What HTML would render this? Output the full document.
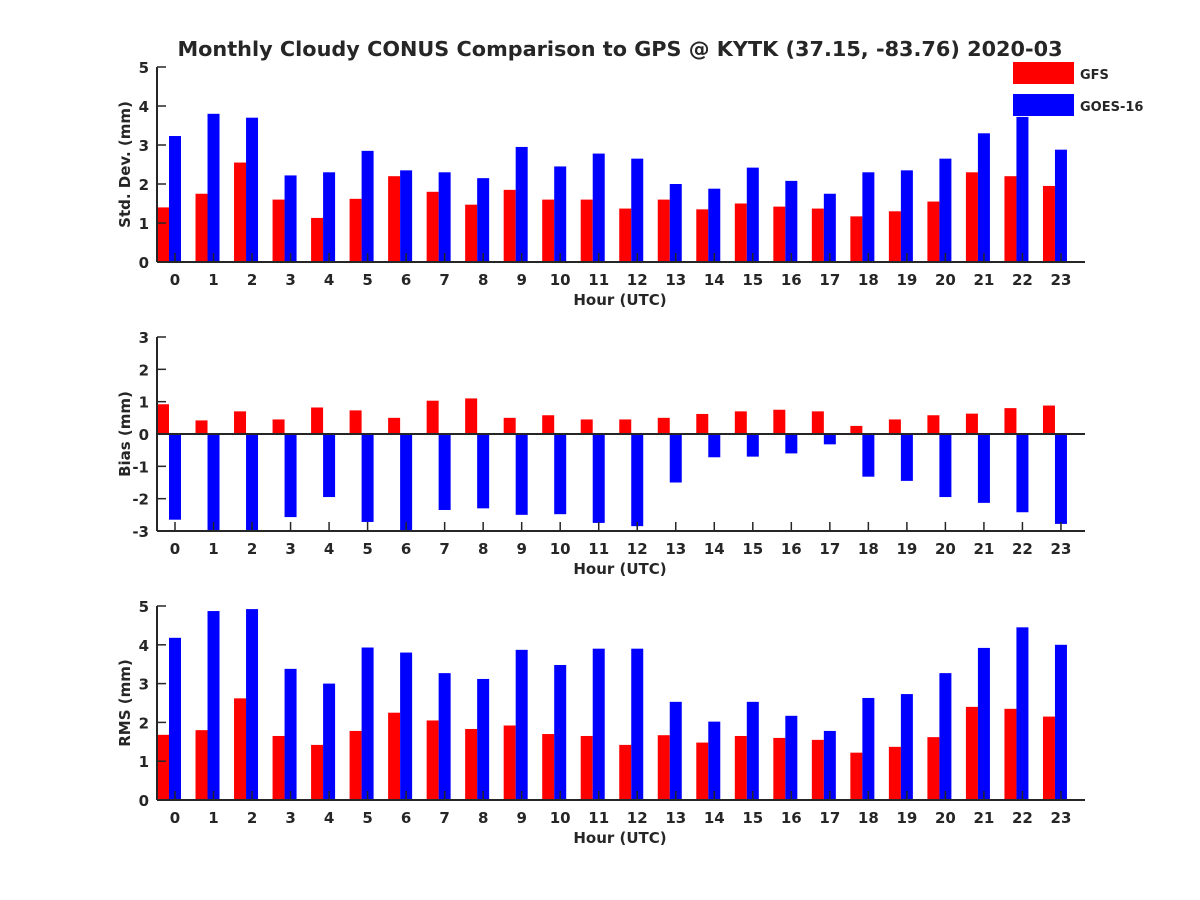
<!DOCTYPE html>
<html><head><meta charset="utf-8"><style>body{margin:0;background:#fff}svg{display:block}text{font-family:"DejaVu Sans","Liberation Sans",sans-serif;font-weight:bold;fill:#262626}</style></head>
<body>
<svg id="c" width="1200" height="900">
<text x="620" y="56" text-anchor="middle" font-size="20.8">Monthly Cloudy CONUS Comparison to GPS @ KYTK (37.15, -83.76) 2020-03</text>
<rect x="1013" y="62" width="61" height="22" fill="#ff0000"/>
<text x="1080" y="79" font-size="13">GFS</text>
<rect x="1013" y="94" width="61" height="22" fill="#0000ff"/>
<text x="1080" y="111" font-size="13">GOES-16</text>
</svg>
<script>
const hours=[0,1,2,3,4,5,6,7,8,9,10,11,12,13,14,15,16,17,18,19,20,21,22,23];
const stdGFS=[1.4,1.75,2.55,1.6,1.13,1.62,2.2,1.8,1.47,1.85,1.6,1.6,1.37,1.6,1.35,1.5,1.42,1.37,1.17,1.3,1.55,2.3,2.2,1.95];
const stdGOES=[3.23,3.8,3.7,2.22,2.3,2.85,2.35,2.3,2.15,2.95,2.45,2.78,2.65,2.0,1.88,2.42,2.08,1.75,2.3,2.35,2.65,3.3,3.72,2.88];
const biasGFS=[0.92,0.42,0.7,0.45,0.82,0.73,0.5,1.03,1.1,0.5,0.58,0.45,0.45,0.5,0.62,0.7,0.75,0.7,0.25,0.45,0.58,0.63,0.8,0.88];
const biasGOES=[-2.65,-3.2,-3.2,-2.57,-1.95,-2.72,-3.2,-2.35,-2.3,-2.5,-2.48,-2.75,-2.85,-1.5,-0.72,-0.7,-0.6,-0.32,-1.32,-1.45,-1.95,-2.13,-2.42,-2.78];
const rmsGFS=[1.68,1.8,2.62,1.65,1.42,1.78,2.25,2.05,1.83,1.92,1.7,1.65,1.42,1.67,1.48,1.65,1.6,1.55,1.22,1.37,1.62,2.4,2.35,2.15];
const rmsGOES=[4.18,4.87,4.92,3.38,3.0,3.93,3.8,3.27,3.12,3.87,3.48,3.9,3.9,2.53,2.02,2.53,2.17,1.78,2.63,2.73,3.27,3.92,4.45,4.0];
const stdTicks=[0,1,2,3,4,5];
const biasTicks=[-3,-2,-1,0,1,2,3];
const rmsTicks=[0,1,2,3,4,5];
const svg=document.getElementById('c');
const NS='http://www.w3.org/2000/svg';
function mk(t,a){const e=document.createElementNS(NS,t);for(const k in a)e.setAttribute(k,a[k]);svg.appendChild(e);return e;}
const X0=157,X1=1085;
function xs(h){return 175+h*38.52;}
function panel(key,top,bot,ymin,ymax,ticks,gfs,goes,ylabel){
  const ys=v=>bot-(Math.max(ymin,Math.min(ymax,v))-ymin)/(ymax-ymin)*(bot-top);
  const y0=ys(Math.max(ymin,0));
  hours.forEach((h,i)=>{
    const a=ys(gfs[i]);
    const r=mk('rect',{x:xs(h)-18,y:Math.min(a,y0),width:12,height:Math.abs(a-y0),fill:'#ff0000'});
    
    
    const b=ys(goes[i]);
    const q=mk('rect',{x:xs(h)-6,y:Math.min(b,y0),width:12,height:Math.abs(b-y0),fill:'#0000ff'});
    
    
  });
  const la=mk('line',{x1:X0,y1:top,x2:X0,y2:bot,stroke:'#262626','stroke-width':2});
  
  
  const lb=mk('line',{x1:X0,y1:bot,x2:X1,y2:bot,stroke:'#262626','stroke-width':2});
  
  
  if(ymin<0){const z=mk('line',{x1:X0,y1:y0,x2:X1,y2:y0,stroke:'#262626','stroke-width':2});
    
    }
  ticks.forEach(t=>{const y=ys(t);
    mk('line',{x1:X0,y1:y,x2:X0+9,y2:y,stroke:'#262626','stroke-width':1.5});
    const tx=mk('text',{x:X0-8,y:y+6,'text-anchor':'end','font-size':15});tx.textContent=t;
    
    });
  hours.forEach(h=>{const x=xs(h);
    mk('line',{x1:x,y1:bot,x2:x,y2:bot-9,stroke:'#262626','stroke-width':1.5});
    const tx=mk('text',{x:x,y:bot+23,'text-anchor':'middle','font-size':15});tx.textContent=h;
    
    });
  const xl=mk('text',{x:620,y:bot+43,'text-anchor':'middle','font-size':15});xl.textContent='Hour (UTC)';
  
  
  const cy=(top+bot)/2;
  const yl=mk('text',{x:130,y:cy,'text-anchor':'middle','font-size':15,transform:'rotate(-90 130 '+cy+')'});yl.textContent=ylabel;
  
  
}
panel('std',67,262,0,5,stdTicks,stdGFS,stdGOES,'Std. Dev. (mm)');
panel('bias',337,531,-3,3,biasTicks,biasGFS,biasGOES,'Bias (mm)');
panel('rms',606,800,0,5,rmsTicks,rmsGFS,rmsGOES,'RMS (mm)');
</script>
</body></html>
